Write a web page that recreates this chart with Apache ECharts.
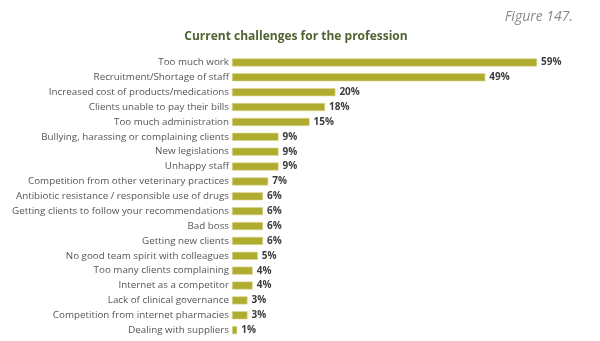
<!DOCTYPE html>
<html>
<head>
<meta charset="utf-8">
<script src="https://cdn.jsdelivr.net/npm/echarts@6/dist/echarts.min.js"></script>
<style>
  html, body { margin: 0; padding: 0; background: #fff; }
  #chart { width: 600px; height: 341px; }
</style>
</head>
<body>
<div id="chart"></div>
<script>
// Challenges, listed top to bottom
const categories = [
  "Too much work",
  "Recruitment/Shortage of staff",
  "Increased cost of products/medications",
  "Clients unable to pay their bills",
  "Too much administration",
  "Bullying, harassing or complaining clients",
  "New legislations",
  "Unhappy staff",
  "Competition from other veterinary practices",
  "Antibiotic resistance / responsible use of drugs",
  "Getting clients to follow your recommendations",
  "Bad boss",
  "Getting new clients",
  "No good team spirit with colleagues",
  "Too many clients complaining",
  "Internet as a competitor",
  "Lack of clinical governance",
  "Competition from internet pharmacies",
  "Dealing with suppliers"
];
// Share of respondents (%)
const values = [59, 49, 20, 18, 15, 9, 9, 9, 7, 6, 6, 6, 6, 5, 4, 4, 3, 3, 1];

const titleText = "Current challenges for the profession";
const figureText = "Figure 147.";

const chart = echarts.init(document.getElementById('chart'), null, { renderer: 'canvas' });

chart.setOption({
  animation: false,
  backgroundColor: '#ffffff',
  title: [
    {
      text: titleText,
      left: 291, top: 26, textAlign: 'center',
      textStyle: { fontFamily: 'Open Sans', fontSize: 12, fontWeight: 'bold', color: '#4f6431' }
    },
    {
      text: figureText,
      right: 22, top: 5,
      textStyle: { fontFamily: 'Open Sans', fontSize: 14, fontStyle: 'italic', fontWeight: 'normal', color: '#8a8a8a' }
    }
  ],
  grid: { left: 232, top: 55, width: 305, height: 282.6, containLabel: false },
  xAxis: {
    type: 'value', min: 0, max: 59,
    show: false
  },
  yAxis: {
    type: 'category',
    data: categories,
    inverse: true,
    axisLine: { show: false },
    axisTick: { show: false },
    axisLabel: {
      margin: 3,
      fontFamily: 'Open Sans', fontSize: 9.8, color: '#555555'
    }
  },
  series: [{
    type: 'bar',
    data: values,
    barWidth: 8,
    itemStyle: { color: '#b0ac30', borderColor: '#d8d68f', borderWidth: 0.6 },
    label: {
      show: true, position: 'right', distance: 4,
      formatter: p => p.value + '%',
      fontFamily: 'Open Sans', fontSize: 10, fontWeight: 'bold', color: '#3d3d3d'
    }
  }]
});
</script>
</body>
</html>
